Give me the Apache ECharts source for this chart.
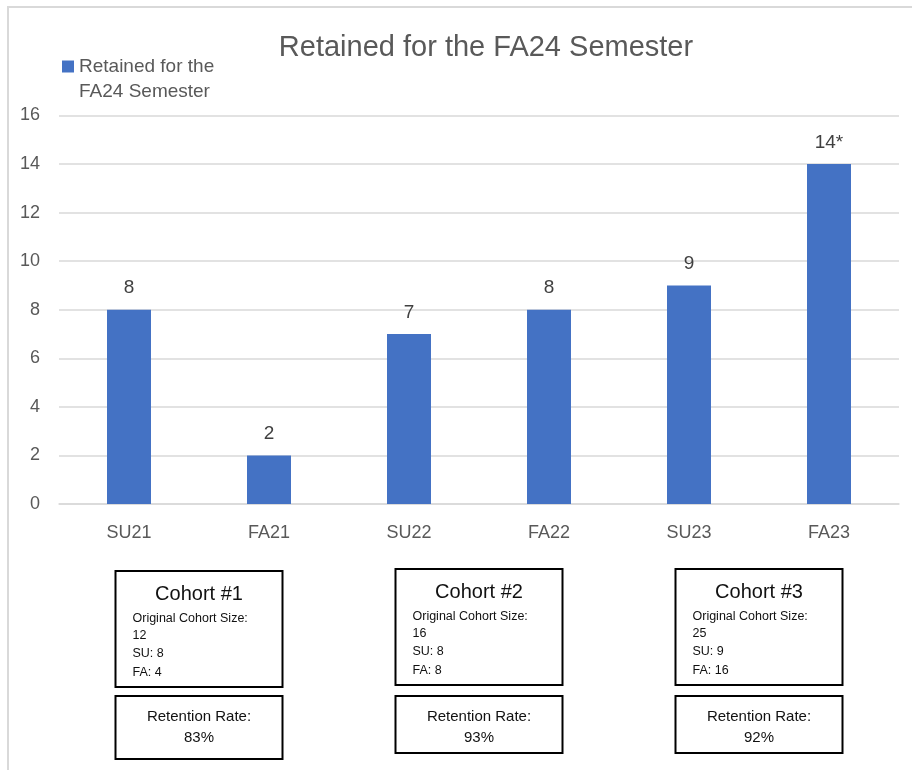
<!DOCTYPE html>
<html>
<head>
<meta charset="utf-8">
<script src="https://cdn.jsdelivr.net/npm/echarts@6/dist/echarts.min.js"></script>
<style>
  html, body { margin: 0; padding: 0; background: #fff; }
  #chart { width: 912px; height: 770px; }
</style>
</head>
<body>
<div id="chart"></div>
<script>
// chart data
const categories = ['SU21', 'FA21', 'SU22', 'FA22', 'SU23', 'FA23'];
const retained = [8, 2, 7, 8, 9, 14];
const labelMarks = ['', '', '', '', '', '*'];
const yMin = 0, yMax = 16, yStep = 2;

// cohort notes under the chart
const cohortNames = ['Cohort #1', 'Cohort #2', 'Cohort #3'];
const cohortSizes = [12, 16, 25];
const suCounts = [8, 8, 9];
const faCounts = [4, 8, 16];
const retentionRates = ['83%', '93%', '92%'];

const seriesName = 'Retained for the FA24 Semester';
const font = '"Liberation Sans", Arial, sans-serif';
const gray = '#595959';

window.addEventListener('load', function () {
    let chart = echarts.init(document.getElementById('chart'));
    chart.setOption({
        animation: false,
        textStyle: { fontFamily: font },
        legend: {
            data: [seriesName],
            left: 62,
            top: 29,
            padding: 0,
            icon: 'rect',
            itemWidth: 12,
            itemHeight: 12,
            // empty first line keeps the icon level with "Retained for the"
            formatter: function () { return '\nRetained for the\nFA24 Semester'; },
            textStyle: { fontSize: 19, color: gray, lineHeight: 25 }
        },
        grid: { left: 59, right: 13, top: 115.5, bottom: 266, containLabel: false, outerBoundsMode: 'none' },
        xAxis: {
            type: 'category',
            data: categories,
            axisLine: { lineStyle: { color: '#d9d9d9', width: 1.5 } },
            axisTick: { show: false },
            axisLabel: { color: gray, fontSize: 18, margin: 20 }
        },
        yAxis: {
            type: 'value',
            min: yMin,
            max: yMax,
            interval: yStep,
            axisLine: { show: false },
            axisTick: { show: false },
            axisLabel: { color: gray, fontSize: 18, margin: 19 },
            splitLine: { lineStyle: { color: '#d9d9d9', width: 1.5 } }
        },
        series: [{
            name: seriesName,
            type: 'bar',
            data: retained,
            barWidth: 44,
            itemStyle: { color: '#4472C4' },
            label: {
                show: true,
                position: 'top',
                distance: 12,
                color: '#404040',
                fontSize: 19,
                formatter: function (p) { return p.value + labelMarks[p.dataIndex]; }
            }
        }]
    });

    // boxes are centred under each pair of categories
    let els = [
        { type: 'rect', shape: { x: 8, y: 7, width: 1000, height: 1000 }, style: { fill: 'none', stroke: '#d9d9d9', lineWidth: 2 }, silent: true },
        { type: 'text', style: { text: seriesName, x: 486, y: 48, font: '29px ' + font, fill: gray, align: 'center', verticalAlign: 'middle' } }
    ];
    cohortNames.forEach(function (name, i) {
        let a = chart.convertToPixel({ xAxisIndex: 0 }, categories[2 * i]);
        let b = chart.convertToPixel({ xAxisIndex: 0 }, categories[2 * i + 1]);
        let cx = (a + b) / 2;
        let left = cx - 83.5;
        let top = i === 0 ? 571 : 569;
        let retH = i === 0 ? 63 : 57;
        let small = '12.5px ' + font;
        let ink = '#111';
        els.push(
            { type: 'rect', shape: { x: left, y: top, width: 167, height: 116 }, style: { fill: '#fff', stroke: '#000', lineWidth: 2 } },
            { type: 'text', style: { text: name, x: cx, y: top + 23, font: '20px ' + font, fill: ink, align: 'center', verticalAlign: 'middle' } },
            { type: 'text', style: { text: 'Original Cohort Size:', x: left + 17, y: top + 48, font: small, fill: ink, verticalAlign: 'middle' } },
            { type: 'text', style: { text: String(cohortSizes[i]), x: left + 17, y: top + 65, font: small, fill: ink, verticalAlign: 'middle' } },
            { type: 'text', style: { text: 'SU: ' + suCounts[i], x: left + 17, y: top + 83, font: small, fill: ink, verticalAlign: 'middle' } },
            { type: 'text', style: { text: 'FA: ' + faCounts[i], x: left + 17, y: top + 102, font: small, fill: ink, verticalAlign: 'middle' } },
            { type: 'rect', shape: { x: left, y: 696, width: 167, height: retH }, style: { fill: '#fff', stroke: '#000', lineWidth: 2 } },
            { type: 'text', style: { text: 'Retention Rate:', x: cx, y: 717, font: '15px ' + font, fill: ink, align: 'center', verticalAlign: 'middle' } },
            { type: 'text', style: { text: retentionRates[i], x: cx, y: 738, font: '15px ' + font, fill: ink, align: 'center', verticalAlign: 'middle' } }
        );
    });
    chart.setOption({ graphic: { elements: els } });
});
</script>
</body>
</html>
